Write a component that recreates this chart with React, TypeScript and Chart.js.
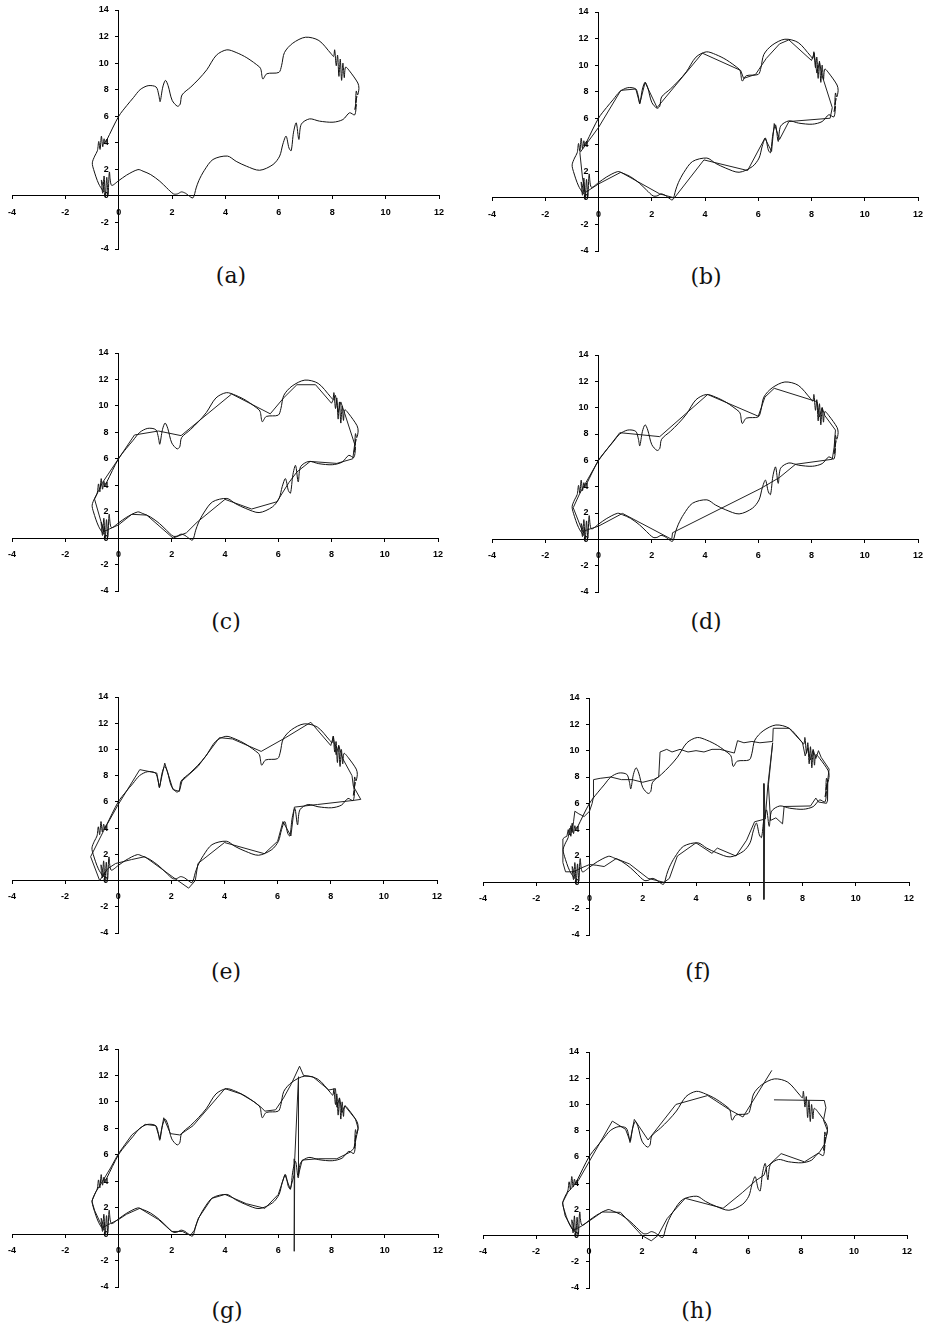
import React, { useEffect, useRef } from "react";
import { Chart, registerables } from "chart.js";
Chart.register(...registerables);

// ---- data ----
const X_TICKS = [-4, -2, 0, 2, 4, 6, 8, 10, 12];
const Y_TICKS = [-4, -2, 0, 2, 4, 6, 8, 10, 12, 14];

// original closed curve, shown in every panel
const BASE_CURVE: [number, number][] = [
  [-0.45, 4.2], [0, 6.0], [0.3, 6.8], [0.55, 7.4], [0.8, 8.0], [1.1, 8.3], [1.4, 8.2], [1.5, 7.6], [1.55, 7.1],
  [1.65, 8.2], [1.75, 8.7], [1.85, 8.3], [2.0, 7.2], [2.2, 6.75], [2.3, 6.9], [2.37, 7.6], [2.7, 8.2], [3.0, 8.8],
  [3.3, 9.5], [3.66, 10.6], [4.05, 11.0], [4.4, 10.8], [4.8, 10.4], [5.28, 9.7], [5.33, 9.5], [5.4, 8.8], [5.55, 9.2],
  [6.0, 9.3], [6.1, 9.8], [6.21, 10.8], [6.52, 11.5], [7.0, 11.95], [7.5, 11.7], [7.96, 10.7], [8.05, 10.5],
  [8.09, 11.0], [8.15, 9.8], [8.2, 10.6], [8.25, 9.0], [8.3, 10.3], [8.35, 8.7], [8.4, 10.0], [8.45, 8.9], [8.5, 9.7],
  [8.65, 9.4], [8.96, 8.5], [9.0, 8.1], [8.95, 7.6], [8.9, 7.9], [8.88, 7.0], [8.92, 7.5], [8.85, 6.5], [8.9, 6.9],
  [8.84, 6.1], [8.65, 6.26], [8.4, 5.75], [8.03, 5.55], [7.52, 5.63], [7.15, 5.8], [6.84, 5.4], [6.75, 4.25],
  [6.65, 5.5], [6.55, 4.8], [6.46, 3.4], [6.38, 3.6], [6.27, 4.5], [6.15, 3.9], [6.03, 3.0], [5.78, 2.36],
  [5.28, 1.93], [4.78, 2.24], [4.4, 2.6], [4.07, 3.0], [3.53, 2.74], [3.2, 1.9], [3.0, 1.15], [2.9, 0.6],
  [2.78, -0.15], [2.6, 0.05], [2.5, 0.2], [2.35, 0.3], [2.2, 0.15], [2.05, 0.15], [1.8, 0.6], [1.54, 1.1],
  [1.2, 1.6], [0.91, 1.86], [0.72, 1.98], [0.29, 1.56], [0, 1.15], [-0.27, 0.8], [-0.35, 1.8], [-0.4, 0.1],
  [-0.45, 1.4], [-0.5, -0.1], [-0.55, 1.5], [-0.6, 0.2], [-0.65, 1.2], [-0.55, 0.3], [-0.75, 0.9], [-0.94, 1.98],
  [-0.99, 2.49], [-0.9, 3.0], [-0.8, 3.4], [-0.75, 4.1], [-0.7, 3.5], [-0.65, 4.5], [-0.6, 3.7], [-0.55, 4.3],
  [-0.5, 3.9], [-0.45, 4.2],
];

const APPROX_B: [number, number][] = [
  [-0.7, 3.4], [0, 5.3], [0.84, 8.1], [1.4, 8.2], [1.55, 7.1], [1.75, 8.7], [2.2, 6.8], [3.9, 10.9], [5.34, 9.6],
  [5.45, 9.0], [5.9, 9.3], [6.3, 10.5], [6.8, 11.6], [7.15, 11.9], [8.0, 10.35], [8.1, 10.9], [8.2, 9.4],
  [8.3, 10.2], [8.4, 9.2], [8.78, 6.8], [8.7, 6.0], [7.15, 5.75], [6.8, 4.4], [6.6, 5.6], [6.5, 3.5], [6.25, 4.5],
  [5.6, 2.06], [3.96, 2.86], [2.85, 0.0], [2.3, 0.3], [0.84, 1.93], [0, 1.05], [-0.5, 0.4], [-0.6, 1.5], [-0.7, 3.4],
];

const APPROX_C: [number, number][] = [
  [-0.6, 4.2], [0, 6.0], [0.6, 7.8], [1.5, 8.1], [2.35, 7.75], [4.25, 10.9], [5.7, 9.4], [6.2, 10.6], [6.7, 11.6],
  [7.4, 11.6], [8.0, 10.2], [8.15, 10.8], [8.25, 9.5], [8.35, 10.3], [8.5, 9.4], [8.87, 7.1], [8.8, 6.0],
  [8.2, 5.65], [7.2, 5.8], [6.7, 5.0], [6.4, 4.2], [5.95, 2.75], [5.0, 2.2], [4.0, 2.93], [2.95, 1.2],
  [2.55, 0.4], [2.05, 0.0], [1.06, 1.74], [0.5, 1.8], [0, 1.0], [-0.55, 0.5], [-0.9, 2.95], [-0.6, 4.2],
];

const APPROX_D: [number, number][] = [
  [-0.7, 3.5], [0, 6.0], [0.8, 8.1], [2.3, 7.8], [4.1, 11.0], [6.0, 9.35], [6.25, 10.8], [6.6, 11.47],
  [8.21, 10.45], [8.3, 9.3], [8.4, 10.0], [8.5, 9.4], [8.9, 8.3], [8.85, 7.0], [8.78, 6.08], [7.4, 5.7],
  [6.8, 4.7], [6.1, 3.87], [2.78, 0.5], [2.75, 0.0], [0.9, 1.97], [0, 1.0], [-0.6, 0.6], [-0.95, 2.4], [-0.7, 3.5],
];

const APPROX_E: [number, number][] = [
  [-1.04, 1.82], [-0.5, 4.0], [0, 5.8], [0.81, 8.46], [1.45, 8.2], [1.55, 7.1], [1.75, 8.96], [2.06, 6.94],
  [2.3, 6.8], [2.4, 7.6], [3.0, 8.7], [3.81, 10.9], [4.3, 10.8], [5.38, 9.85], [6.3, 10.9], [7.25, 12.07],
  [8.0, 10.3], [8.1, 11.0], [8.2, 9.6], [8.3, 10.3], [8.45, 9.3], [8.8, 8.0], [8.85, 7.2], [9.13, 6.19],
  [8.8, 6.1], [7.5, 5.8], [6.63, 5.6], [6.5, 3.4], [6.2, 4.5], [6.0, 3.0], [5.5, 2.05], [4.0, 2.9], [3.0, 1.3],
  [2.9, 0.0], [2.65, -0.58], [2.1, 0.2], [1.0, 1.82], [0.5, 1.6], [-0.1, 1.3], [-0.4, 0.9], [-0.7, 0.0], [-1.04, 1.82],
];

const APPROX_F: [number, number][] = [
  [-1.0, 3.3], [-0.95, 3.4], [-0.85, 3.5], [-0.8, 4.0], [-0.75, 3.6], [-0.7, 4.3], [-0.65, 3.8], [-0.6, 4.6],
  [-0.55, 5.4], [-0.4, 5.2], [-0.2, 5.0], [0, 5.4], [0.1, 6.0], [0.15, 6.5], [0.15, 7.8], [0.4, 7.9], [0.8, 8.0],
  [1.2, 7.8], [1.6, 7.8], [2.0, 7.6], [2.4, 7.8], [2.6, 8.0], [2.65, 9.9], [2.9, 10.1], [3.1, 9.9], [3.4, 10.1],
  [3.7, 9.9], [4.0, 10.0], [4.3, 9.9], [4.6, 10.1], [4.9, 10.1], [5.44, 9.82], [5.56, 10.76], [5.8, 10.6],
  [6.1, 10.7], [6.4, 10.6], [6.88, 10.7], [6.9, 11.7], [7.5, 11.7], [8.0, 10.6], [8.1, 9.6], [8.2, 10.2],
  [8.3, 9.3], [8.4, 10.1], [8.5, 9.4], [8.6, 10.0], [8.7, 9.5], [9.0, 8.6], [8.95, 7.8], [8.94, 6.2], [8.9, 6.0],
  [8.6, 6.1], [8.5, 6.4], [8.3, 5.8], [7.31, 5.76], [7.25, 4.44], [7.0, 4.9], [6.8, 4.7], [6.72, 7.4],
  [6.88, 10.6], [6.7, 7.4], [6.6, 4.8], [6.55, 7.5], [6.55, -1.3], [6.58, 4.8], [6.2, 4.6], [5.9, 3.2],
  [5.5, 2.0], [4.8, 2.6], [4.6, 2.2], [4.0, 3.0], [3.3, 2.0], [3.0, 0.3], [2.8, 0.0], [2.2, 0.3], [1.5, 1.4],
  [1.0, 1.8], [0.55, 1.2], [0.25, 1.3], [0, 1.35], [-0.3, 1.1], [-0.6, 0.8], [-0.9, 0.8], [-1.0, 1.5], [-1.0, 3.3],
];

const APPROX_G: [number, number][] = [
  [-0.6, 4.0], [-0.3, 5.0], [0, 6.1], [0.5, 7.5], [1.0, 8.3], [1.4, 8.2], [1.55, 7.2], [1.7, 8.8], [1.95, 7.6],
  [2.3, 7.5], [2.8, 8.2], [3.4, 9.6], [4.0, 11.0], [4.6, 10.6], [5.1, 10.0], [5.35, 9.6], [5.5, 9.3], [5.9, 9.4],
  [6.2, 10.3], [6.5, 11.4], [6.8, 12.7], [6.95, 12.0], [7.3, 11.9], [7.9, 10.9], [8.15, 11.0], [8.2, 9.6],
  [8.3, 10.3], [8.4, 9.2], [8.5, 9.7], [8.9, 8.7], [9.0, 8.0], [8.85, 6.5], [8.7, 6.2], [8.2, 5.7], [7.5, 5.7],
  [6.9, 5.6], [6.75, 4.4], [6.76, 11.9], [6.62, 5.7], [6.6, -1.3], [6.6, 4.5], [6.45, 3.4], [6.25, 4.5],
  [6.1, 3.6], [6.0, 3.0], [5.5, 1.95], [4.8, 2.3], [4.0, 3.0], [3.5, 2.7], [3.0, 1.2], [2.85, 0.3], [2.7, -0.1],
  [2.4, 0.2], [2.0, 0.2], [1.5, 1.1], [0.8, 1.95], [0.3, 1.5], [0, 1.1], [-0.3, 0.8], [-0.6, 0.5], [-0.9, 1.8],
  [-1.0, 2.5], [-0.85, 3.2], [-0.6, 4.0],
];

const APPROX_H: [number, number][] = [
  [6.98, 10.35], [8.88, 10.3], [8.94, 9.75], [8.85, 8.8], [9.0, 8.0], [8.9, 7.0], [8.69, 6.33], [8.13, 5.62],
  [7.25, 6.25], [6.7, 5.2], [6.6, 4.6], [6.3, 4.2], [5.8, 3.3], [5.06, 2.08], [3.63, 2.84], [2.95, 1.3],
  [2.6, 0.0], [2.35, -0.4], [2.0, 0.0], [1.19, 1.77], [0.5, 1.8], [0, 1.1], [-0.3, 0.7], [-0.6, 0.4],
  [-0.9, 1.5], [-1.0, 2.5], [-0.8, 3.3], [-0.4, 4.2], [0.88, 8.73], [1.38, 8.1], [1.55, 7.2], [1.71, 8.86],
  [2.23, 7.29], [3.28, 10.0], [4.48, 10.68], [5.3, 9.6], [5.81, 9.04], [6.9, 12.6],
];

// ---- layout (pixel boxes of the plot range in each panel) ----
type PanelDef = {
  label: string; L: number; R: number; T: number; B: number; lx: number; ly: number;
  approx: [number, number][] | null;
};
const PANELS: PanelDef[] = [
  { label: "(a)", L: 12, R: 439, T: 10, B: 249, lx: 231, ly: 276, approx: null },
  { label: "(b)", L: 492, R: 918, T: 12, B: 251, lx: 706, ly: 277, approx: APPROX_B },
  { label: "(c)", L: 12, R: 438, T: 353, B: 591, lx: 226, ly: 622, approx: APPROX_C },
  { label: "(d)", L: 492, R: 918, T: 355, B: 592, lx: 706, ly: 622, approx: APPROX_D },
  { label: "(e)", L: 12, R: 437, T: 697, B: 933, lx: 226, ly: 972, approx: APPROX_E },
  { label: "(f)", L: 483, R: 909, T: 698, B: 935, lx: 698, ly: 972, approx: APPROX_F },
  { label: "(g)", L: 12, R: 438, T: 1049, B: 1287, lx: 227, ly: 1311, approx: APPROX_G },
  { label: "(h)", L: 483, R: 907, T: 1052, B: 1288, lx: 697, ly: 1311, approx: APPROX_H },
];

const PAD_X = 20;
const PAD_Y = 10;
const TICK_FONT = { family: "'Liberation Sans', Arial, sans-serif", size: 9, weight: "bold" };

function toPoints(arr: [number, number][]) {
  return arr.map(([x, y]) => ({ x, y }));
}

function Panel({ def }: { def: PanelDef }) {
  const ref = useRef<HTMLCanvasElement | null>(null);
  const w = def.R - def.L + 2 * PAD_X;
  const h = def.B - def.T + 2 * PAD_Y;

  useEffect(() => {
    if (!ref.current) return;
    const datasets: any[] = [
      {
        data: toPoints(BASE_CURVE),
        showLine: true,
        borderColor: "#111",
        borderWidth: 1,
        pointRadius: 0,
        tension: 0.3,
        fill: false,
      },
    ];
    if (def.approx) {
      datasets.push({
        data: toPoints(def.approx),
        showLine: true,
        borderColor: "#222",
        borderWidth: 1,
        pointRadius: 0,
        tension: 0,
        fill: false,
      });
    }
    const chart = new Chart(ref.current, {
      type: "scatter",
      data: { datasets },
      options: {
        responsive: false,
        maintainAspectRatio: false,
        animation: false,
        layout: { padding: { left: PAD_X, right: PAD_X, top: PAD_Y, bottom: PAD_Y } },
        plugins: { legend: { display: false }, tooltip: { enabled: false } },
        scales: {
          x: {
            type: "linear",
            min: -4,
            max: 12,
            position: { y: 0 } as any,
            afterBuildTicks: (s: any) => { s.ticks = X_TICKS.map((v) => ({ value: v })); },
            ticks: { autoSkip: false, maxRotation: 0, font: TICK_FONT, color: "#000", padding: 8 },
            grid: { drawOnChartArea: false, drawTicks: true, tickLength: 3, color: "#000" },
            border: { display: true, color: "#000", width: 1 },
          },
          y: {
            type: "linear",
            min: -4,
            max: 14,
            position: { x: 0 } as any,
            afterBuildTicks: (s: any) => { s.ticks = Y_TICKS.map((v) => ({ value: v })); },
            ticks: {
              autoSkip: false,
              font: TICK_FONT,
              color: "#000",
              callback: (v: any) => String(v) + "    ",
            },
            grid: { drawOnChartArea: false, drawTicks: true, tickLength: 3, color: "#000" },
            border: { display: true, color: "#000", width: 1 },
          },
        },
      } as any,
    });
    return () => chart.destroy();
  }, [def]);

  return (
    <>
      <canvas
        ref={ref}
        width={w}
        height={h}
        style={{ position: "absolute", left: def.L - PAD_X, top: def.T - PAD_Y, width: w, height: h }}
      />
      <div
        style={{
          position: "absolute",
          left: def.lx,
          top: def.ly,
          transform: "translate(-50%, -50%)",
          fontFamily: "'DejaVu Serif', 'Liberation Serif', serif",
          fontSize: 22,
          lineHeight: "26px",
          color: "#111",
          whiteSpace: "nowrap",
        }}
      >
        {def.label}
      </div>
    </>
  );
}

export default function App() {
  return (
    <div style={{ position: "absolute", left: 0, top: 0, width: 928, height: 1330, background: "#fff" }}>
      {PANELS.map((p) => (
        <Panel key={p.label} def={p} />
      ))}
    </div>
  );
}
